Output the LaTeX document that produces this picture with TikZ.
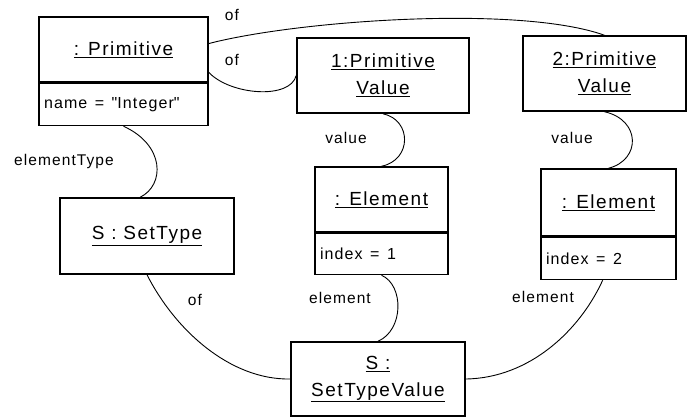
\documentclass[tikz,border=0pt]{standalone}
\usepackage{fontspec}
\setmainfont{Liberation Sans}[LetterSpace=7]
\newfontfamily\objfont{Liberation Sans}[LetterSpace=8]
\usetikzlibrary{positioning}

\begin{document}
\begin{tikzpicture}[x=1pt, y=1pt,
		objname/.style={draw, line width=1.5pt, inner sep=2pt, align=center, font=\objfont\fontsize{19}{27}\selectfont},
		objattr/.style={draw, line width=1.5pt, inner sep=5pt, align=left, font=\fontsize{16}{18}\selectfont,
			execute at begin node={\spaceskip=7.5pt plus 1pt\relax}},
		link/.style={line width=0.9pt},
		role/.style={font=\fontsize{15.5}{17}\selectfont}]
		\useasboundingbox (0,0) rectangle (687,-418);
		
		% Objects
		\node[objname, minimum width=169pt, minimum height=65pt] (prim) at (123.5,-49.5) {\underline{: Primitive}};
		\node[objattr, text width=159pt, minimum height=42pt, below=0pt of prim] (primAttr) {name = \textquotedbl Integer\textquotedbl};
		
		\node[objname, minimum width=172pt, minimum height=75pt] (pv1) at (383,-75.5) {\underline{1:Primitive}\\\underline{Value}};
		\node[objname, minimum width=163pt, minimum height=75pt] (pv2) at (604.5,-73.5) {\underline{2:Primitive}\\\underline{Value}};
		
		\node[objname, minimum width=133pt, minimum height=65pt] (el1) at (381.5,-199.5) {\underline{: Element}};
		\node[objattr, text width=123pt, minimum height=41pt, below=0pt of el1] (el1Attr) {index = 1};
		
		\node[objname, minimum width=135pt, minimum height=67pt] (el2) at (608.5,-202.5) {\underline{: Element}};
		\node[objattr, text width=125pt, minimum height=42pt, below=0pt of el2] (el2Attr) {index = 2};
		
		\node[objname, minimum width=174pt, minimum height=76pt] (setT) at (147,-236) {\underline{S : SetType}};
		\node[objname, minimum width=174pt, minimum height=74pt] (stv) at (378,-379) {\underline{S :}\\\underline{SetTypeValue}};
		
		% links
		\draw[link] (prim.4) .. controls (300,-20) and (520,-5) .. (pv2.north);
		\draw[link] (prim.-15) .. controls (230,-95) and (290,-100) .. (pv1.west);
		\draw[link] (primAttr.south) .. controls (165,-145) and (165,-185) .. (setT.100);
		\draw[link] (pv1.south) .. controls (412,-120) and (412,-160) .. (el1.north);
		\draw[link] (pv2.south) .. controls (641,-120) and (641,-160) .. (el2.north);
		\draw[link] (setT.south) .. controls (175,-330) and (230,-380) .. (stv.west);
		\draw[link] (el1Attr.south) .. controls (404,-285) and (404,-330) .. (stv.north);
		\draw[link] (el2Attr.-105) .. controls (580,-330) and (530,-378) .. (stv.east);
		
		% role labels
		\node[role] (ofTop) at (232,-15) {of};
		\node[role] (ofPv) at (232,-60) {of};
		\node[role] (elemType) at (64,-161) {elementType};
		\node[role] (val1) at (346,-138) {value};
		\node[role] (val2) at (572,-138) {value};
		\node[role] (ofSet) at (195,-300) {of};
		\node[role] (elem1) at (340,-298) {element};
		\node[role] (elem2) at (543,-297) {element};
\end{tikzpicture}
\end{document}
